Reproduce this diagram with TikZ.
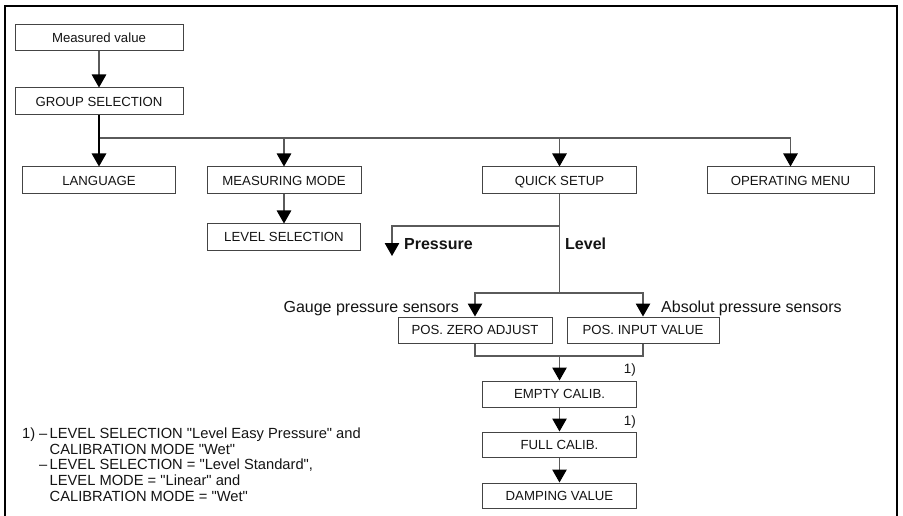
\documentclass[tikz,border=0pt]{standalone}
\usepackage{fontspec}
\setmainfont{Liberation Sans}[Ligatures=TeXOff]
\usetikzlibrary{arrows.meta}
\definecolor{boxgray}{HTML}{444444}
\definecolor{lngray}{HTML}{5A5A5A}
\definecolor{txt}{HTML}{141414}
\begin{document}
\begin{tikzpicture}[x=1pt,y=-1pt,
  box/.style={draw=boxgray, line width=1pt, fill=white, minimum height=26pt, inner sep=0pt,
              text height=9.5pt, text depth=0pt,
              font=\fontsize{13.2}{15}\selectfont, text=txt},
  ln/.style={draw=lngray, line width=1.1pt},
  arr/.style={ln, -{Triangle[width=14.5pt,length=13pt,color=black]}},
  lbl/.style={font=\fontsize{16}{18}\selectfont, inner sep=0pt, text=txt},
  blbl/.style={font=\bfseries\fontsize{16}{18}\selectfont, inner sep=0pt, text=txt},
  note/.style={font=\fontsize{13.5}{15}\selectfont, inner sep=0pt, text=txt},
  fnote/.style={font=\fontsize{14.7}{15.7}\selectfont, inner sep=0pt, text=txt, align=left},
]
\useasboundingbox (0,0) rectangle (903,516);
% frame
\draw[black, line width=1.6pt] (5,516) -- (5,6) -- (897,6) -- (897,516);

% boxes
\node[box, minimum width=168pt] (mv) at (99,38) {Measured value};
\node[box, minimum width=168pt, minimum height=27pt] (gs) at (99,101.5) {GROUP SELECTION};
\node[box, minimum width=153pt, minimum height=27pt] (lang) at (99,180.5) {LANGUAGE};
\node[box, minimum width=154pt, minimum height=27pt] (mm) at (284,180.5) {MEASURING MODE};
\node[box, minimum width=154pt, minimum height=27pt] (qs) at (559.5,180.5) {QUICK SETUP};
\node[box, minimum width=167pt, minimum height=27pt] (om) at (790.5,180.5) {OPERATING MENU};
\node[box, minimum width=153pt] (ls) at (284,237) {LEVEL SELECTION};
\node[box, minimum width=154pt] (pz) at (475,330) {POS. ZERO ADJUST};
\node[box, minimum width=152pt] (pi) at (643,330) {POS. INPUT VALUE};
\node[box, minimum width=154pt] (ec) at (559.5,394) {EMPTY CALIB.};
\node[box, minimum width=154pt, minimum height=25pt] (fc) at (559.5,444.5) {FULL CALIB.};
\node[box, minimum width=154pt, minimum height=25pt] (dv) at (559.5,495.5) {DAMPING VALUE};

% connectors
\coordinate (busL) at (99,138);
\coordinate (busR) at (790.5,138);
\coordinate (pj) at (559.5,226);
\coordinate (ptip) at (392,256);
\coordinate (sj) at (559.5,293);
\coordinate (lj) at (559.5,356);

\draw[arr] (mv) -- (gs);
\draw[ln] (busL) -- (busR);
\draw[arr, draw=black, line width=1.25pt] (gs) -- (lang);
\draw[arr] (mm.north |- busL) -- (mm.north);
\draw[arr] (qs.north |- busL) -- (qs.north);
\draw[arr] (om.north |- busL) -- (om.north);
\draw[arr] (mm) -- (ls);
\draw[ln] (qs.south) -- (sj);
\draw[arr] (pj) -| (ptip);
\draw[arr] (sj) -| (pz.north);
\draw[arr] (sj) -| (pi.north);
\draw[ln] (pz.south) |- (pi.south |- lj) -- (pi.south);
\draw[arr] (lj) -- (ec);
\draw[arr] (ec) -- (fc);
\draw[arr] (fc) -- (dv);

% labels
\node[blbl, anchor=west] (lp) at (404,244) {Pressure};
\node[blbl, anchor=west] (ll) at (565,244) {Level};
\node[lbl, anchor=base east] (lg) at (459,312) {Gauge pressure sensors};
\node[lbl, anchor=base west] (la) at (661,312) {Absolut pressure sensors};
\node[note, anchor=base east] (n1) at (636,373) {1)};
\node[note, anchor=base east] (n2) at (636,425) {1)};

% footnote
\node[fnote, anchor=north west] (fn) at (22,427.5) {%
\makebox[17pt][l]{1)}\makebox[10.5pt][l]{–}LEVEL SELECTION "Level Easy Pressure" and\\
\hspace*{27.5pt}CALIBRATION MODE "Wet"\\
\hspace*{17pt}\makebox[10.5pt][l]{–}LEVEL SELECTION = "Level Standard",\\
\hspace*{27.5pt}LEVEL MODE = "Linear" and\\
\hspace*{27.5pt}CALIBRATION MODE = "Wet"};
\end{tikzpicture}
\end{document}
